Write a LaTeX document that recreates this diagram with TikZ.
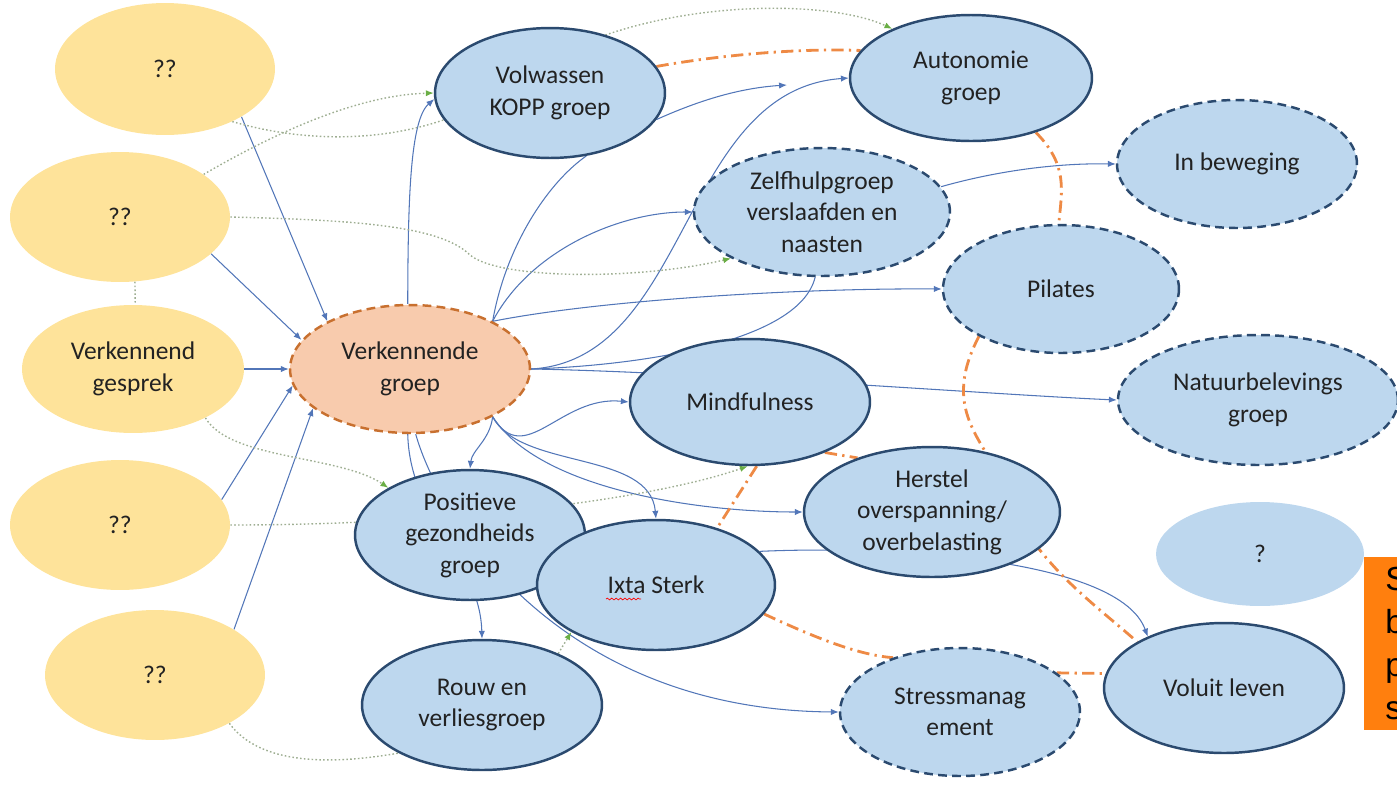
\documentclass[tikz,border=0pt]{standalone}
\usepackage{fontspec}
\setmainfont{Carlito}
\newfontfamily\kaderfont{Liberation Sans}
\usetikzlibrary{arrows.meta,backgrounds,shapes.geometric,decorations.pathmorphing}

\definecolor{geel}{HTML}{FEE39A}
\definecolor{lichtblauw}{HTML}{BDD7EE}
\definecolor{donkerblauw}{HTML}{2B4A6F}
\definecolor{zalm}{HTML}{F8CBAD}
\definecolor{roest}{HTML}{C8702F}
\definecolor{lijnblauw}{HTML}{5276B8}
\definecolor{stippel}{HTML}{9EAE92}
\definecolor{pijlgroen}{HTML}{6AAE45}
\definecolor{oranje}{HTML}{EE8A45}
\definecolor{kaderoranje}{HTML}{FF7F0E}
\definecolor{tekst}{HTML}{222222}

\begin{document}
\begin{tikzpicture}[x=0.02cm,y=-0.02cm]
\tikzstyle{bol} = [ellipse, inner sep=0pt, align=center, text=tekst,
font=\fontsize{14.5}{18}\selectfont, minimum width=4.8cm, minimum height=2.6cm]
\tikzstyle{vraag} = [bol, fill=geel, minimum width=4.4cm]
\tikzstyle{groep} = [bol, fill=lichtblauw, draw=donkerblauw, line width=1.4pt]
\tikzstyle{groep_los} = [groep, dash pattern=on 5pt off 3pt]
\tikzstyle{startgroep} = [bol, fill=zalm, draw=roest, line width=1.4pt,
dash pattern=on 5pt off 3pt]
\tikzstyle{kader} = [rectangle, fill=kaderoranje, anchor=north west, align=left,
font=\kaderfont\fontsize{19}{24.5}\selectfont, text=black]
\tikzstyle{plain} = [draw, lijnblauw, line width=0.6pt]
\tikzstyle{line} = [plain, -{Latex[length=4.5pt,width=3.6pt]}]
\tikzstyle{stip} = [draw, stippel, line width=0.8pt, dash pattern=on 0.9pt off 1.3pt]
\tikzstyle{stippijl} = [stip, -{Latex[length=4.5pt,width=3.6pt,color=pijlgroen]}]
\tikzstyle{verband} = [draw, oranje, line width=1.6pt,
dash pattern=on 7pt off 3pt on 1.3pt off 3pt]
\useasboundingbox (0,0) rectangle (1397,785);

% gele vragen links
\node [vraag, minimum height=2.64cm] (vr1) at (165,69) {??};
\node [vraag] (vr2) at (120,217) {??};
\node [vraag, minimum width=4.44cm, minimum height=2.56cm] (gesprek) at (133,369) {Verkennend\\gesprek};
\node [vraag] (vr3) at (120,525) {??};
\node [vraag] (vr4) at (155,675) {??};
% groepen
\node [startgroep, minimum height=2.56cm] (verk) at (410,369) {Verkennende\\groep};
\node [groep, minimum width=4.6cm] (kopp) at (550,93) {Volwassen\\KOPP groep};
\node [groep, minimum width=4.84cm, minimum height=2.52cm] (auto) at (971,78) {Autonomie\\groep};
\node [groep_los, minimum width=5.12cm, minimum height=2.56cm] (zelf) at (822,212) {Zelfhulpgroep\\verslaafden en\\naasten};
\node [groep_los, minimum height=2.56cm] (beweg) at (1237,164) {In beweging};
\node [groep_los, minimum width=4.72cm, minimum height=2.56cm] (pilates) at (1061,289) {Pilates};
\node [groep, minimum height=2.52cm] (mindf) at (750,402) {Mindfulness};
\node [groep_los, minimum width=5.6cm] (natuur) at (1258,400) {Natuurbelevings\\groep};
\node [groep, minimum width=5.12cm] (herstel) at (932,512) {Herstel\\overspanning/\\overbelasting};
\node [bol, fill=lichtblauw, minimum width=4.16cm, minimum height=2.08cm] (leeg) at (1260,554) {?};
\node [groep, minimum width=4.6cm] (posgez) at (470,535) {Positieve\\gezondheids\\groep};
\node [groep, minimum width=4.76cm] (ixta) at (656,585) {Ixta Sterk};
\node [groep] (rouw) at (482,705) {Rouw en\\verliesgroep};
\node [groep_los, minimum height=2.56cm] (stress) at (960,712) {Stressmanag\\ement};
\node [groep] (voluit) at (1224,688) {Voluit leven};
\coordinate (kopp_end) at (787,85);
\draw [red, line width=0.4pt, decorate, decoration={snake, amplitude=0.5pt, segment length=2.5pt}] (606,599) -- (641,599);

% notitie rechts, afgesneden
\begin{scope}
\clip (0,0) rectangle (1397,785);
\node [kader, minimum height=3.46cm, text width=2cm, inner xsep=0.42cm] (notitie) at (1364,557) {S\\b\\p\\s};
\end{scope}

\begin{scope}[on background layer]
% naar verkennende groep
\path [line] (vr1.-32) -- (verk.150);
\path [line] (vr2.-22) -- (verk.165);
\path [line] (gesprek) -- (verk);
\path [line] (vr3.14) -- (verk.188);
\path [line] (vr4.30) -- (verk.202);
% vanuit verkennende groep
\path [line] (verk.92) .. controls (408,200) and (410,120) .. (kopp.183);
\path [plain] (verk.30) .. controls (505,250) and (545,185) .. (kopp.-60);
\path [line] (verk.30) .. controls (530,250) and (620,212) .. (zelf.west);
\path [line] (verk.30) .. controls (600,300) and (800,288) .. (pilates.west);
\path [line] (verk.east) .. controls (690,360) and (680,90) .. (auto.west);
\path [plain] (zelf.-96) .. controls (800,340) and (650,365) .. (verk.east);
\path [line] (verk.east) .. controls (700,372) and (1000,395) .. (natuur.west);
\path [line] (verk.-30) .. controls (525,470) and (560,395) .. (mindf.west);
\path [line] (verk.-30) .. controls (490,440) and (472,450) .. (posgez.north);
\path [line] (verk.-30) .. controls (520,470) and (650,450) .. (ixta.north);
\path [line] (verk.-30) .. controls (540,490) and (700,512) .. (herstel.west);
\path [line] (verk.-92) .. controls (410,520) and (480,560) .. (rouw.north);
\path [line] (verk.-85) .. controls (440,520) and (560,710) .. (stress.west);
% overige pijlen
\path [line] (ixta.18) .. controls (900,545) and (1120,560) .. (voluit.146);
\path [line] (zelf.12) .. controls (1000,170) and (1060,163) .. (beweg.west);
\path [line] (kopp.-14) .. controls (700,100) and (740,88) .. (kopp_end);
% stippellijnen
\path [stippijl] (vr1.-38) .. controls (330,150) and (440,140) .. (520,80) .. controls (620,0) and (820,-5) .. (auto.148);
\path [stippijl] (vr2.27) .. controls (280,130) and (360,95) .. (kopp.180);
\path [stippijl] (vr2.east) .. controls (350,220) and (440,225) .. (470,255) .. controls (500,280) and (640,280) .. (zelf.-153);
\path [stip] (vr2.-77) -- (gesprek.88);
\path [stippijl] (gesprek.-34) .. controls (230,460) and (340,455) .. (posgez.150);
\path [stippijl] (vr3.east) .. controls (450,525) and (650,500) .. (mindf.-92);
\path [stip] (vr4.-33) .. controls (260,765) and (330,765) .. (rouw.-150);
\path [stippijl] (rouw.34) -- (ixta.-151);
% oranje verbanden
\path [verband] (kopp.14) .. controls (720,55) and (800,48) .. (auto.166);
\path [verband] (auto.-40) .. controls (1068,165) and (1062,190) .. (pilates.92);
\path [verband] (pilates.-150) .. controls (940,410) and (985,440) .. (1000,480) .. controls (1030,560) and (1090,600) .. (voluit.152);
\path [verband] (mindf.-84) -- (ixta.43);
\path [verband] (mindf.-34) -- (herstel.144);
\path [verband] (ixta.-15) .. controls (820,640) and (860,655) .. (stress.141);
\path [verband] (stress.22) -- (voluit.173);
\end{scope}
\end{tikzpicture}
\end{document}
